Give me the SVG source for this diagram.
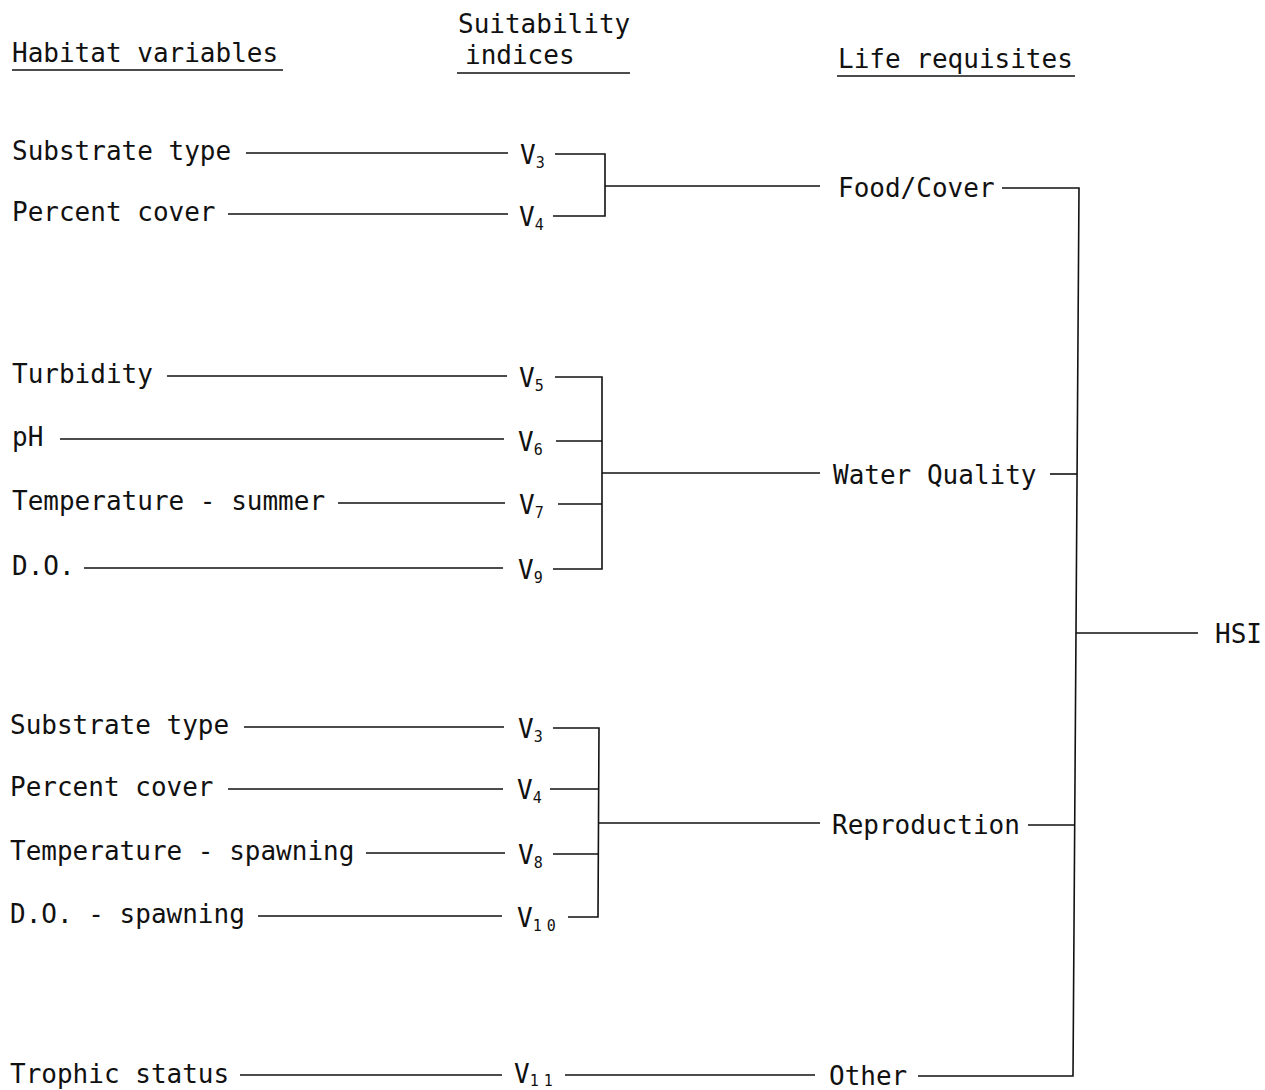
<svg xmlns="http://www.w3.org/2000/svg" width="1265" height="1090" viewBox="0 0 1265 1090">
<style>
text{font-family:"DejaVu Sans Mono","Liberation Mono",monospace;font-size:26px;fill:#111}
.sub{font-size:15px;letter-spacing:5px}
.c line,.c polyline{stroke:#111;stroke-width:1.6;fill:none}
</style>
<rect width="1265" height="1090" fill="#fff"/>
<g id="headers">
<text x="12" y="62">Habitat variables</text>
<text x="458" y="33">Suitability</text>
<text x="465" y="64">indices</text>
<text x="838" y="68">Life requisites</text>
</g>
<g class="c" id="connectors">
<line x1="12" y1="70" x2="283" y2="70"/>
<line x1="457" y1="73" x2="630" y2="73"/>
<line x1="837" y1="76" x2="1075" y2="76"/>
<!-- group 1 -->
<line x1="246" y1="153" x2="508" y2="153"/>
<line x1="228" y1="214" x2="508" y2="214"/>
<polyline points="555,154 605,154 605,216 553,216"/>
<line x1="605" y1="186" x2="820" y2="186"/>
<!-- group 2 -->
<line x1="167" y1="376" x2="507" y2="376"/>
<line x1="60" y1="439" x2="504" y2="439"/>
<line x1="338" y1="503" x2="505" y2="503"/>
<line x1="84" y1="568" x2="503" y2="568"/>
<polyline points="555,377 602,377 602,569 553,569"/>
<line x1="556" y1="441" x2="602" y2="441"/>
<line x1="558" y1="504" x2="602" y2="504"/>
<line x1="602" y1="473" x2="820" y2="473"/>
<!-- group 3 -->
<line x1="244" y1="727" x2="504" y2="727"/>
<line x1="228" y1="789" x2="503" y2="789"/>
<line x1="366" y1="853" x2="505" y2="853"/>
<line x1="258" y1="916" x2="502" y2="916"/>
<polyline points="553,728 599,728 598,917 568,917"/>
<line x1="550" y1="789" x2="598" y2="789"/>
<line x1="553" y1="854" x2="598" y2="854"/>
<line x1="598" y1="823" x2="820" y2="823"/>
<!-- other -->
<line x1="240" y1="1075" x2="502" y2="1075"/>
<line x1="565" y1="1075" x2="815" y2="1075"/>
<!-- life requisites to HSI -->
<polyline points="1002,188 1079,188 1073,1076 918,1076"/>
<line x1="1050" y1="474" x2="1077" y2="474"/>
<line x1="1028" y1="825" x2="1075" y2="825"/>
<line x1="1076" y1="633" x2="1198" y2="633"/>
</g>
<g id="n-substrate1"><text x="12" y="160">Substrate type</text></g>
<g id="n-percent1"><text x="12" y="221">Percent cover</text></g>
<g id="n-turbidity"><text x="12" y="383">Turbidity</text></g>
<g id="n-ph"><text x="12" y="446">pH</text></g>
<g id="n-tempsummer"><text x="12" y="510">Temperature - summer</text></g>
<g id="n-do"><text x="12" y="575">D.O.</text></g>
<g id="n-substrate2"><text x="10" y="734">Substrate type</text></g>
<g id="n-percent2"><text x="10" y="796">Percent cover</text></g>
<g id="n-tempspawn"><text x="10" y="860">Temperature - spawning</text></g>
<g id="n-dospawn"><text x="10" y="923">D.O. - spawning</text></g>
<g id="n-trophic"><text x="10" y="1083">Trophic status</text></g>
<g id="n-v3a"><text x="520" y="164">V<tspan class="sub" dy="4">3</tspan></text></g>
<g id="n-v4a"><text x="519" y="226">V<tspan class="sub" dy="4">4</tspan></text></g>
<g id="n-v5"><text x="519" y="387">V<tspan class="sub" dy="4">5</tspan></text></g>
<g id="n-v6"><text x="518" y="451">V<tspan class="sub" dy="4">6</tspan></text></g>
<g id="n-v7"><text x="519" y="514">V<tspan class="sub" dy="4">7</tspan></text></g>
<g id="n-v9"><text x="518" y="579">V<tspan class="sub" dy="4">9</tspan></text></g>
<g id="n-v3b"><text x="518" y="738">V<tspan class="sub" dy="4">3</tspan></text></g>
<g id="n-v4b"><text x="517" y="799">V<tspan class="sub" dy="4">4</tspan></text></g>
<g id="n-v8"><text x="518" y="864">V<tspan class="sub" dy="4">8</tspan></text></g>
<g id="n-v10"><text x="517" y="927">V<tspan class="sub" dy="4">10</tspan></text></g>
<g id="n-v11"><text x="514" y="1083">V<tspan class="sub" dy="3">11</tspan></text></g>
<g id="n-food"><text x="838" y="197">Food/Cover</text></g>
<g id="n-water"><text x="833" y="484">Water Quality</text></g>
<g id="n-repro"><text x="832" y="834">Reproduction</text></g>
<g id="n-other"><text x="829" y="1085">Other</text></g>
<g id="n-hsi"><text x="1215" y="643">HSI</text></g>
</svg>
